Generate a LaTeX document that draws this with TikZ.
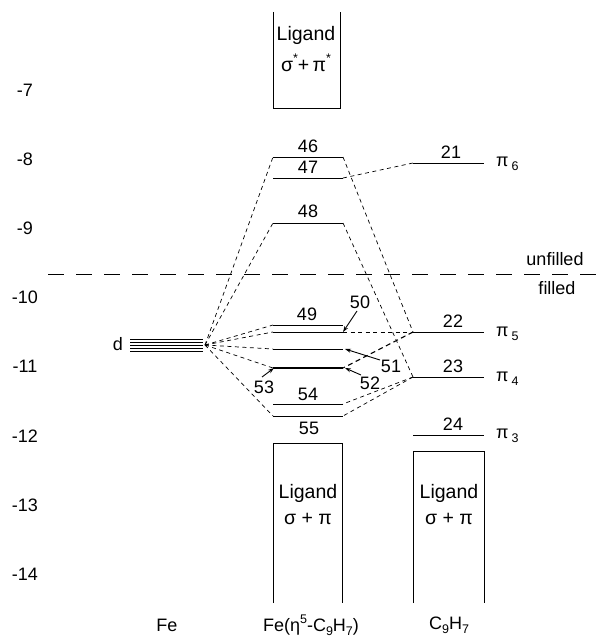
\documentclass[tikz,border=0pt]{standalone}
\usepackage{fontspec}
\setmainfont{Liberation Sans}
\usetikzlibrary{arrows.meta}
\newcommand{\lowidx}[1]{\raisebox{-0.45ex}{\fontsize{12.5}{12.5}\selectfont #1}}
\newcommand{\upidx}[1]{\raisebox{0.85ex}{\fontsize{12.5}{12.5}\selectfont #1}}
\begin{document}
\begin{tikzpicture}[x=1pt,y=-1pt,
  lbl/.style={font=\fontsize{18}{18}\selectfont, inner sep=0pt},
  band/.style={font=\fontsize{19.5}{19.5}\selectfont, inner sep=0pt},
  lvl/.style={line width=0.95pt},
  heavylvl/.style={line width=2.6pt},
  link/.style={line width=0.7pt, dash pattern=on 4pt off 3.5pt},
  boldlink/.style={line width=1.1pt, dash pattern=on 5pt off 3.5pt},
  divider/.style={line width=0.8pt, dash pattern=on 16pt off 12pt},
  box/.style={line width=0.9pt},
  pointer/.style={line width=0.9pt, -{Stealth[length=6pt,width=4pt]}}]
\useasboundingbox (0,0) rectangle (598,639);

% energy scale (eV)
\foreach \e [count=\k from 0] in {-7,-8,-9,-10,-11,-12,-13,-14}
  \node[lbl] (ax\k) at (25,90+69.2*\k) {\e};

% filled / unfilled boundary
\coordinate (divL) at (48,274);
\coordinate (divR) at (598,274);
\draw[divider] (divL) -- (divR);
\node[lbl] (unf) at (555,259) {unfilled};
\node[lbl] (fil) at (557,288) {filled};

% Fe d levels
\foreach \yy in {339,342,345,348,351}
  \draw[line width=0.9pt] (130,\yy) -- (203,\yy);
\coordinate (P) at (205,345);
\node[lbl] (dlab) at (118,344) {d};

% complex levels
\coordinate (L46) at (273,157); \coordinate (R46) at (343,157);
\coordinate (L47) at (273,178); \coordinate (R47) at (343,178);
\coordinate (L48) at (273,223); \coordinate (R48) at (343,223);
\coordinate (L49) at (273,325); \coordinate (R49) at (343,325);
\coordinate (L50) at (273,332); \coordinate (R50) at (343,332);
\coordinate (L51) at (273,349); \coordinate (R51) at (343,349);
\coordinate (L52) at (273,368); \coordinate (R52) at (343,368);
\coordinate (L54) at (273,404); \coordinate (R54) at (343,404);
\coordinate (L55) at (273,416); \coordinate (R55) at (343,416);
\foreach \n in {46,47,48,49,50,51,54,55} \draw[lvl] (L\n) -- (R\n);
\draw[heavylvl] (L52) -- (R52);

% ligand levels
\coordinate (l21) at (413,163); \coordinate (r21) at (484,163);
\coordinate (l22) at (413,332); \coordinate (r22) at (484,332);
\coordinate (l23) at (413,377); \coordinate (r23) at (484,377);
\coordinate (l24) at (413,435); \coordinate (r24) at (484,435);
\foreach \n in {21,22,23,24} \draw[lvl] (l\n) -- (r\n);

% level numbers
\node[lbl] (n46) at (308,146) {46};
\node[lbl] (n47) at (308,167) {47};
\node[lbl] (n48) at (308,211) {48};
\node[lbl] (n49) at (307,314) {49};
\node[lbl] (n50) at (360,302) {50};
\node[lbl] (n51) at (391,366) {51};
\node[lbl] (n52) at (370,383) {52};
\node[lbl] (n53) at (264,387) {53};
\node[lbl] (n54) at (308,394) {54};
\node[lbl] (n55) at (309,428) {55};
\node[lbl] (n21) at (451,152) {21};
\node[lbl] (n22) at (453,321) {22};
\node[lbl] (n23) at (453,366) {23};
\node[lbl] (n24) at (453,424) {24};

% ligand orbital symmetry labels
\node[lbl, anchor=west] (p6) at (496,164) {π\,\lowidx{6}};
\node[lbl, anchor=west] (p5) at (496,334) {π\,\lowidx{5}};
\node[lbl, anchor=west] (p4) at (496,379) {π\,\lowidx{4}};
\node[lbl, anchor=west] (p3) at (496,436) {π\,\lowidx{3}};

% correlation lines from the metal d set
\foreach \t in {L46,L48,L49,L50,L51,L52,L55} \draw[link] (P) -- (\t);
% correlation lines to the ligand levels
\draw[link] (R46) -- (l22);
\draw[link] (R47) -- (l21);
\draw[link] (R48) -- (l23);
\draw[link] (R50) -- (l22);
\draw[boldlink] (l22) -- (R52);
\draw[link] (l23) -- (R54);
\draw[link] (l23) -- (R55);

% label pointers
\coordinate (t50) at (357,311);
\coordinate (t51) at (380,360);
\coordinate (t52) at (361,375);
\coordinate (t53) at (262,377);
\draw[pointer] (t50) -- (R50);
\draw[pointer] (t51) -- ([xshift=2pt]R51);
\draw[pointer] (t52) -- ([xshift=2pt]R52);
\draw[pointer] (t53) -- ([xshift=1pt]L52);

% ligand bands
\draw[box] (273,12) -- (273,108) -- (340,108) -- (340,12);
\node[band] (ab1) at (306,35) {Ligand};
\node[band] (ab2) at (306,63) {σ\upidx{*}+\,π\upidx{*}};

\draw[box] (273,603) -- (273,443) -- (342,443) -- (342,603);
\node[band] (cb1) at (308,493) {Ligand};
\node[band] (cb2) at (308,519) {σ + π};

\draw[box] (413,603) -- (413,451) -- (484,451) -- (484,603);
\node[band] (lb1) at (449,493) {Ligand};
\node[band] (lb2) at (449,519) {σ + π};

% column titles
\node[lbl] (tFe) at (167,625) {Fe};
\node[lbl] (tCx) at (311,625) {Fe(η\upidx{5}-C\lowidx{9}H\lowidx{7})};
\node[lbl] (tL) at (449,625) {C\lowidx{9}H\lowidx{7}};
\end{tikzpicture}
\end{document}
